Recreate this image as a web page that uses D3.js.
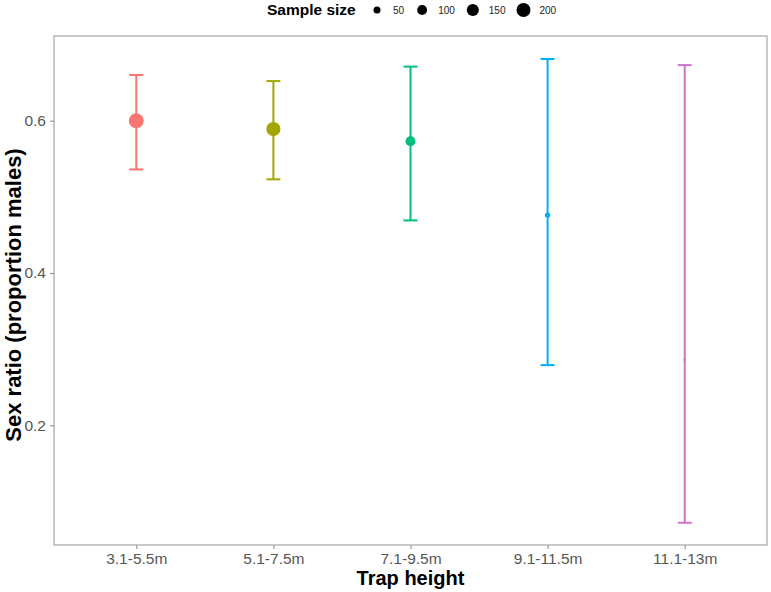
<!DOCTYPE html>
<html>
<head>
<meta charset="utf-8">
<script src="https://cdn.jsdelivr.net/npm/d3@7"></script>
<style>
  body { margin: 0; background: #fff; }
  text { font-family: "Liberation Sans", Arial, sans-serif; }
</style>
</head>
<body>
<div id="chart"></div>
<script>
var categories = ["3.1-5.5m", "5.1-7.5m", "7.1-9.5m", "9.1-11.5m", "11.1-13m"];
var ratio = [0.600, 0.589, 0.573, 0.476, 0.286];
var lower = [0.536, 0.523, 0.469, 0.279, 0.072];
var upper = [0.660, 0.652, 0.671, 0.681, 0.673];
var sampleSize = [225, 205, 100, 30, 7];
var colors = ["#F8766D", "#A3A500", "#00BF7D", "#00B0F6", "#CF74CB"];
var yTicks = [0.2, 0.4, 0.6];
var legendSizes = [50, 100, 150, 200];

var w = 771, h = 592;
var pLeft = 54, pRight = 767, pTop = 36, pBottom = 545;

var svg = d3.select("#chart").append("svg")
  .attr("width", w)
  .attr("height", h);

var x = d3.scalePoint()
  .domain(categories)
  .range([pLeft, pRight])
  .padding(0.6);

var y = d3.scaleLinear()
  .domain([0.0428, 0.7112])
  .range([pBottom, pTop]);

var r = d3.scaleSqrt().domain([0, 200]).range([0, 7]);

// panel border
svg.append("rect")
  .attr("x", pLeft)
  .attr("y", pTop)
  .attr("width", pRight - pLeft)
  .attr("height", pBottom - pTop)
  .attr("fill", "none")
  .attr("stroke", "#b3b3b3")
  .attr("stroke-width", 1.4);

// axes
var xAxis = svg.append("g")
  .attr("transform", "translate(0," + pBottom + ")")
  .call(d3.axisBottom(x).tickSize(4).tickPadding(4));
var yAxis = svg.append("g")
  .attr("transform", "translate(" + pLeft + ",0)")
  .call(d3.axisLeft(y).tickValues(yTicks).tickFormat(d3.format(".1f")).tickSize(4).tickPadding(4));

[xAxis, yAxis].forEach(function(a){
  a.select(".domain").remove();
  a.selectAll("line").attr("stroke", "#999").attr("stroke-width", 1.2);
  a.selectAll("text")
    .attr("fill", "#555")
    .style("font-size", "15.5px");
});

// error bars
var idx = d3.range(categories.length);
var cap = 7;
var bars = svg.append("g").selectAll("g")
  .data(idx)
  .enter()
  .append("g")
  .attr("stroke", function(i){ return colors[i]; })
  .attr("stroke-width", 2);

bars.append("line")
  .attr("x1", function(i){ return x(categories[i]); })
  .attr("x2", function(i){ return x(categories[i]); })
  .attr("y1", function(i){ return y(lower[i]); })
  .attr("y2", function(i){ return y(upper[i]); });
bars.append("line")
  .attr("x1", function(i){ return x(categories[i]) - cap; })
  .attr("x2", function(i){ return x(categories[i]) + cap; })
  .attr("y1", function(i){ return y(upper[i]); })
  .attr("y2", function(i){ return y(upper[i]); });
bars.append("line")
  .attr("x1", function(i){ return x(categories[i]) - cap; })
  .attr("x2", function(i){ return x(categories[i]) + cap; })
  .attr("y1", function(i){ return y(lower[i]); })
  .attr("y2", function(i){ return y(lower[i]); });

// points
svg.append("g").selectAll("circle")
  .data(idx)
  .enter()
  .append("circle")
  .attr("cx", function(i){ return x(categories[i]); })
  .attr("cy", function(i){ return y(ratio[i]); })
  .attr("r", function(i){ return r(sampleSize[i]); })
  .attr("fill", function(i){ return colors[i]; });

// axis titles
svg.append("text")
  .attr("x", (pLeft + pRight) / 2)
  .attr("y", 585)
  .attr("text-anchor", "middle")
  .style("font-size", "20px")
  .style("font-weight", "bold")
  .text("Trap height");

svg.append("text")
  .attr("transform", "translate(21,295) rotate(-90)")
  .attr("text-anchor", "middle")
  .style("font-size", "22px")
  .style("font-weight", "bold")
  .text("Sex ratio (proportion males)");

// legend
var leg = svg.append("g");
leg.append("text")
  .attr("x", 267)
  .attr("y", 15)
  .style("font-size", "15.5px")
  .style("font-weight", "bold")
  .text("Sample size");

var cursor = 377;
legendSizes.forEach(function(s){
  leg.append("circle")
    .attr("cx", cursor)
    .attr("cy", 10)
    .attr("r", r(s))
    .attr("fill", "#000");
  var t = leg.append("text")
    .attr("x", cursor + 16)
    .attr("y", 13.5)
    .style("font-size", "10px")
    .attr("fill", "#222")
    .text(s);
  cursor = cursor + 16 + t.node().getComputedTextLength() + 18;
});
</script>
</body>
</html>
